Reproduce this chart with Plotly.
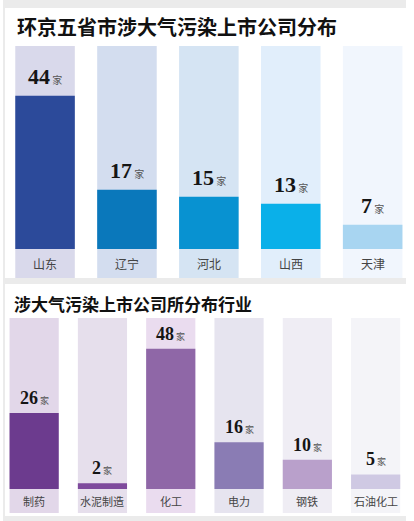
import plotly.graph_objects as go

W, H = 414, 521

# ---- data ----
title_top = "环京五省市涉大气污染上市公司分布"
provinces = ["山东", "辽宁", "河北", "山西", "天津"]
province_counts = [44, 17, 15, 13, 7]

title_bottom = "涉大气污染上市公司所分布行业"
industries = ["制药", "水泥制造", "化工", "电力", "钢铁", "石油化工"]
industry_counts = [26, 2, 48, 16, 10, 5]

unit = "家"

# ---- styles ----
top_bar_colors = ["#2c4a9a", "#0a78bb", "#0892d1", "#0ab0e9", "#a8d5f1"]
top_track_colors = ["#d9d9eb", "#d3ddef", "#d5e4f3", "#e1eefb", "#f1f6fd"]
bot_bar_colors = ["#6c3b8e", "#7e4a9c", "#8f67a7", "#8a7cb4", "#b9a0cb", "#cfc9e3"]
bot_track_colors = ["#e2d7e9", "#e6dfec", "#eadcef", "#e6e4ef", "#efedf4", "#f4f4f8"]

TOP_RANGE = [-8.33, 58.33]
BOT_RANGE = [-8.22, 58.56]

def px_x(p):
    return p / W

def px_y(p):
    return 1 - p / H

fig = go.Figure()

# top panel
fig.add_trace(go.Bar(x=provinces, y=[TOP_RANGE[1] - TOP_RANGE[0]] * len(provinces),
                     base=TOP_RANGE[0], marker_color=top_track_colors, marker_line_width=0,
                     width=0.727, xaxis="x", yaxis="y", hoverinfo="skip"))
fig.add_trace(go.Bar(x=provinces, y=province_counts, marker_color=top_bar_colors,
                     marker_line_width=0, width=0.727, xaxis="x", yaxis="y", hoverinfo="skip"))
# bottom panel
fig.add_trace(go.Bar(x=industries, y=[BOT_RANGE[1] - BOT_RANGE[0]] * len(industries),
                     base=BOT_RANGE[0], marker_color=bot_track_colors, marker_line_width=0,
                     width=0.72, xaxis="x2", yaxis="y2", hoverinfo="skip"))
fig.add_trace(go.Bar(x=industries, y=industry_counts, marker_color=bot_bar_colors,
                     marker_line_width=0, width=0.72, xaxis="x2", yaxis="y2", hoverinfo="skip"))

annotations = []
CJK = "Noto Sans CJK SC"

def value_label(v, unit_size):
    return (f"<b>{v}</b><span style='font-size:{unit_size}px;color:#555;"
            f"font-family:{CJK}'> {unit}</span>")

for c, v in zip(provinces, province_counts):
    annotations.append(dict(x=c, y=v, xref="x", yref="y", yanchor="bottom", yshift=5,
                            text=value_label(v, 10), showarrow=False,
                            font=dict(family="Liberation Serif", size=22, color="#151515")))
    annotations.append(dict(x=c, y=TOP_RANGE[0] / 2, xref="x", yref="y", yanchor="middle",
                            text=c, showarrow=False,
                            font=dict(family=CJK, size=12, color="#444")))
for c, v in zip(industries, industry_counts):
    annotations.append(dict(x=c, y=v, xref="x2", yref="y2", yanchor="bottom", yshift=3,
                            text=value_label(v, 9), showarrow=False,
                            font=dict(family="Liberation Serif", size=18, color="#151515")))
    annotations.append(dict(x=c, y=BOT_RANGE[0] / 2, xref="x2", yref="y2", yanchor="middle",
                            text=c, showarrow=False,
                            font=dict(family=CJK, size=11, color="#444")))

annotations.append(dict(x=px_x(15), y=px_y(27), xref="paper", yref="paper",
                        xanchor="left", yanchor="middle", text=f"<b>{title_top}</b>",
                        showarrow=False, font=dict(family=CJK, size=20, color="#111")))
annotations.append(dict(x=px_x(12), y=px_y(303), xref="paper", yref="paper",
                        xanchor="left", yanchor="middle", text=f"<b>{title_bottom}</b>",
                        showarrow=False, font=dict(family=CJK, size=17, color="#111")))

def rect(x0, y0, x1, y1, color):
    return dict(type="rect", xref="paper", yref="paper", layer="below",
                x0=px_x(x0), x1=px_x(x1), y0=px_y(y1), y1=px_y(y0),
                fillcolor=color, line_width=0)

shapes = [
    rect(3, 0, 406, 521, "#ebebeb"),
    rect(5, 8, 414, 278, "#ffffff"),
    rect(5, 284, 414, 516, "#ffffff"),
]

axis_common = dict(visible=False, fixedrange=True)
fig.update_layout(
    width=W, height=H, margin=dict(l=0, r=0, t=0, b=0),
    paper_bgcolor="white", plot_bgcolor="rgba(0,0,0,0)",
    barmode="overlay", showlegend=False,
    xaxis=dict(domain=[px_x(4.1), px_x(413.6)], range=[-0.5, 4.5], anchor="y", **axis_common),
    yaxis=dict(domain=[px_y(278), px_y(46)], range=TOP_RANGE, anchor="x", **axis_common),
    xaxis2=dict(domain=[px_x(0), px_x(409.8)], range=[-0.5, 5.5], anchor="y2", **axis_common),
    yaxis2=dict(domain=[px_y(513), px_y(318)], range=BOT_RANGE, anchor="x2", **axis_common),
    annotations=annotations, shapes=shapes,
)

fig.write_html("out.html", config={"displayModeBar": False},
               post_script="document.body.style.margin='0';document.body.style.overflow='hidden';")
